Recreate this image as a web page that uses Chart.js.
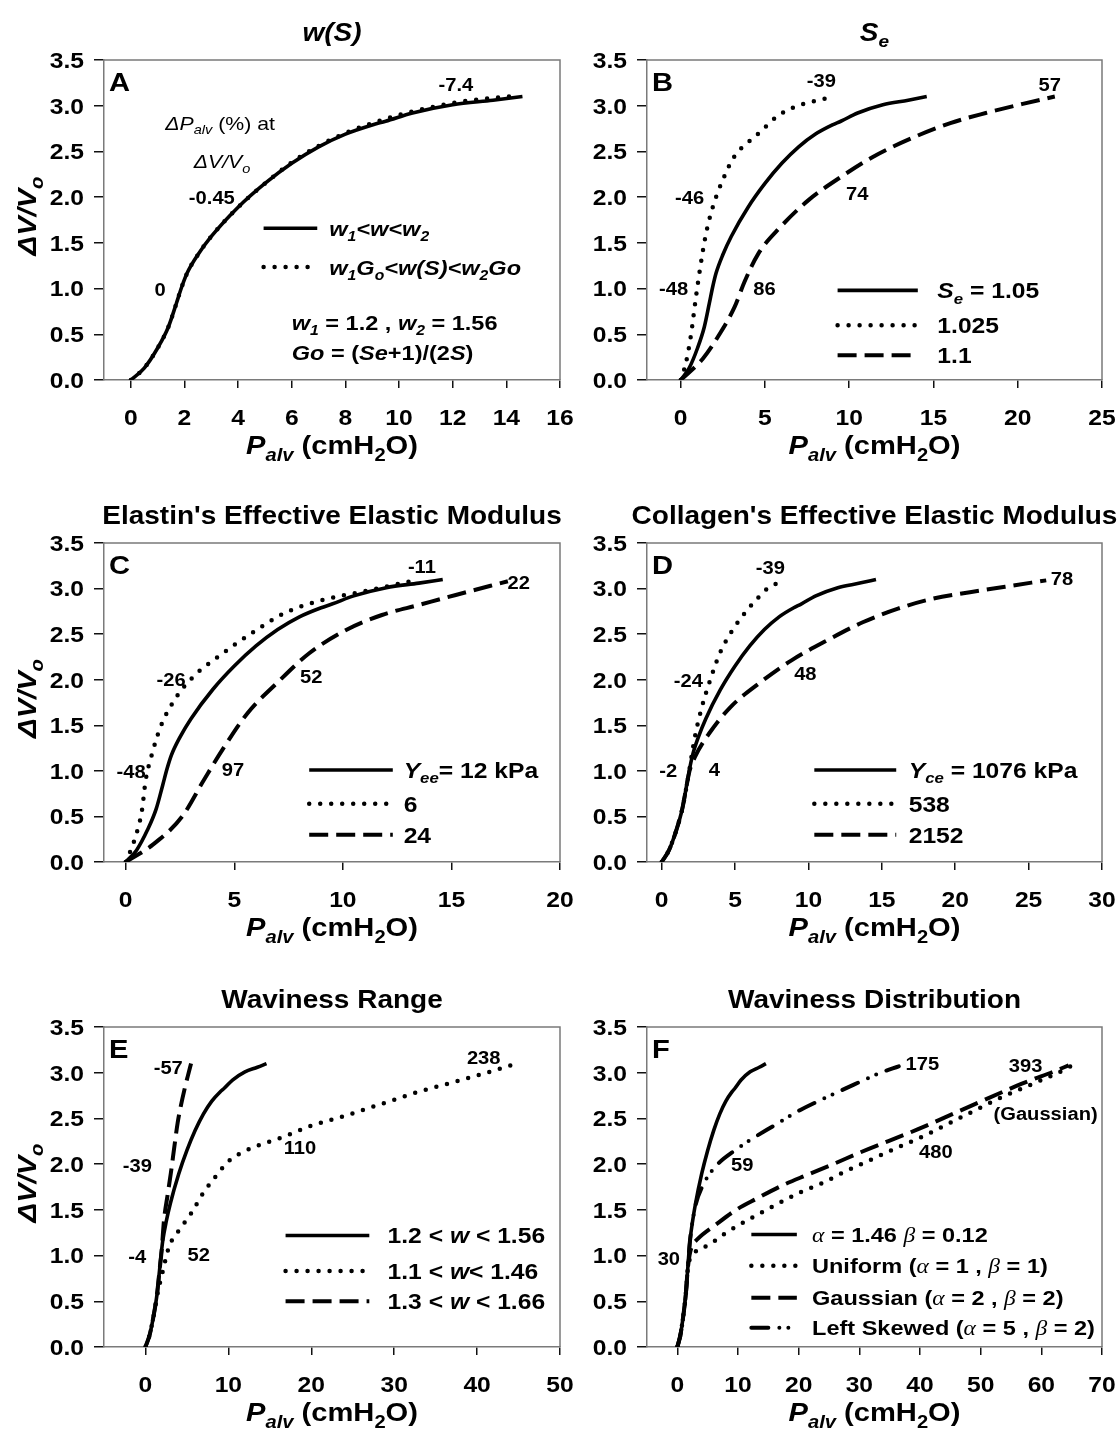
<!DOCTYPE html>
<html>
<head>
<meta charset="utf-8">
<script src="https://cdn.jsdelivr.net/npm/chart.js@4.4.1/dist/chart.umd.min.js"></script>
<style>
  html, body { margin: 0; padding: 0; background: #fff; }
  #wrap { position: relative; width: 1120px; height: 1435px; overflow: hidden; background: #fff; }
  #wrap canvas { position: absolute; }
</style>
</head>
<body>
<div id="wrap">
  <canvas id="pA" width="600" height="478" style="left:0;top:0"></canvas>
  <canvas id="pB" width="540" height="478" style="left:580px;top:0"></canvas>
  <canvas id="pC" width="600" height="478" style="left:0;top:478px"></canvas>
  <canvas id="pD" width="540" height="478" style="left:580px;top:478px"></canvas>
  <canvas id="pE" width="600" height="478" style="left:0;top:957px"></canvas>
  <canvas id="pF" width="540" height="478" style="left:580px;top:957px"></canvas>
</div>
<script>
// tick values
const yTicks = [0, 0.5, 1, 1.5, 2, 2.5, 3, 3.5];
const xTicksA = [0, 2, 4, 6, 8, 10, 12, 14, 16];
const xTicksB = [0, 5, 10, 15, 20, 25];
const xTicksC = [0, 5, 10, 15, 20];
const xTicksD = [0, 5, 10, 15, 20, 25, 30];
const xTicksE = [0, 10, 20, 30, 40, 50];
const xTicksF = [0, 10, 20, 30, 40, 50, 60, 70];

// reference curve (solid line in every panel): P_alv (cmH2O) vs dV/Vo
const refP = [0, 0.5, 1.0, 1.4, 1.7, 1.9, 2.1, 2.5, 3.0, 4.0, 5.0, 6.0, 7.0, 8.0, 9.0, 9.5, 10.5, 12.0, 13.5, 14.6];
const refV = [0, 0.13, 0.35, 0.58, 0.84, 1.02, 1.17, 1.37, 1.57, 1.89, 2.15, 2.37, 2.55, 2.69, 2.79, 2.83, 2.92, 3.01, 3.06, 3.10];

// A: w(S)
const wsP = [0, 0.5, 1.0, 1.4, 1.7, 1.9, 2.1, 2.5, 3.0, 4.0, 5.0, 6.0, 7.0, 8.0, 9.0, 10.0, 11.0, 12.0, 13.0, 14.4];
const wsV = [0, 0.13, 0.35, 0.58, 0.84, 1.02, 1.17, 1.37, 1.57, 1.89, 2.15, 2.38, 2.56, 2.70, 2.81, 2.90, 2.97, 3.03, 3.07, 3.11];

// B: Se
const se1025P = [0, 0.3, 0.6, 0.9, 1.15, 1.5, 1.9, 2.5, 3.2, 4.0, 4.7, 5.7, 6.8, 7.7, 8.9];
const se1025V = [0, 0.18, 0.48, 0.9, 1.22, 1.6, 1.89, 2.19, 2.45, 2.6, 2.71, 2.88, 2.99, 3.04, 3.09];
const se11P = [0, 1.3, 2.3, 3.2, 3.8, 4.6, 5.9, 7.6, 9.5, 11.4, 13.9, 16.0, 18.1, 20.3, 22.2];
const se11V = [0, 0.23, 0.5, 0.8, 1.08, 1.38, 1.67, 1.97, 2.22, 2.44, 2.66, 2.81, 2.92, 3.02, 3.1];

// C: elastin modulus
const yee6P = [0, 0.4, 0.75, 0.92, 1.17, 1.6, 2.25, 3.1, 4.3, 5.8, 7.3, 9.0, 11.0, 13.1];
const yee6V = [0, 0.24, 0.57, 0.9, 1.15, 1.48, 1.78, 2.03, 2.26, 2.51, 2.73, 2.87, 2.97, 3.08];
const yee24P = [0, 1.25, 2.6, 3.6, 4.45, 5.6, 6.95, 8.45, 10.1, 11.8, 13.5, 15.2, 17.6];
const yee24V = [0, 0.19, 0.5, 0.9, 1.23, 1.63, 1.96, 2.29, 2.54, 2.71, 2.82, 2.93, 3.08];

// D: collagen modulus
const yce538P = [0, 0.5, 1.0, 1.4, 1.77, 2.26, 2.74, 3.23, 3.96, 4.69, 5.66, 6.63, 7.36, 8.2];
const yce538V = [0, 0.13, 0.35, 0.58, 0.9, 1.37, 1.7, 1.96, 2.29, 2.51, 2.73, 2.91, 3.02, 3.07];
const yce2152P = [0, 0.5, 1.0, 1.4, 1.7, 1.9, 2.26, 3.23, 4.69, 6.63, 8.82, 11.25, 13.7, 16.1, 18.5, 21.0, 23.4, 26.2];
const yce2152V = [0, 0.13, 0.35, 0.58, 0.84, 1.0, 1.15, 1.41, 1.7, 1.96, 2.21, 2.43, 2.63, 2.78, 2.89, 2.96, 3.02, 3.09];

// E: waviness range
const w11P = [0, 0.5, 1.0, 1.5, 2.04, 2.86, 4.08, 5.5, 6.94, 8.78, 10.0, 12.4, 16.7, 19.7, 24.1, 28.5, 32.9, 37.3, 40.8, 44.7];
const w11V = [0, 0.13, 0.35, 0.6, 0.81, 1.1, 1.28, 1.46, 1.68, 1.9, 2.03, 2.16, 2.3, 2.41, 2.53, 2.66, 2.79, 2.9, 2.99, 3.1];
const w13P = [0, 0.5, 1.0, 1.4, 1.7, 1.95, 2.24, 2.65, 3.06, 3.5, 3.88, 4.3, 4.69, 5.1, 5.5];
const w13V = [0, 0.13, 0.35, 0.58, 0.84, 1.05, 1.39, 1.65, 1.9, 2.2, 2.45, 2.65, 2.81, 2.96, 3.1];

// F: waviness distribution
const uniP = [0, 0.5, 1.0, 1.4, 1.7, 2.0, 2.77, 5.27, 8.04, 11.9, 15.8, 20.2, 24.1, 27.4, 34.6, 41.3, 47.9, 53.4, 59.0, 64.0, 65.6];
const uniV = [0, 0.13, 0.35, 0.58, 0.84, 0.95, 1.03, 1.12, 1.25, 1.4, 1.54, 1.69, 1.8, 1.91, 2.13, 2.33, 2.55, 2.73, 2.89, 3.04, 3.1];
const gausP = [0, 0.5, 1.0, 1.4, 1.7, 2.0, 2.4, 3.32, 6.38, 9.7, 13.0, 17.4, 21.3, 25.7, 30.2, 39.6, 48.5, 56.8, 62.3, 64.5];
const gausV = [0, 0.13, 0.35, 0.58, 0.84, 1.0, 1.1, 1.18, 1.34, 1.5, 1.62, 1.77, 1.88, 2.0, 2.13, 2.38, 2.64, 2.88, 3.02, 3.08];
const skewP = [0, 0.5, 1.0, 1.4, 1.7, 1.9, 2.1, 2.5, 3.0, 4.15, 6.38, 9.7, 11.9, 15.9, 20.2, 25.2, 29.1, 33.5, 36.5];
const skewV = [0, 0.13, 0.35, 0.58, 0.84, 1.02, 1.17, 1.37, 1.55, 1.76, 1.98, 2.16, 2.26, 2.42, 2.59, 2.75, 2.87, 3.0, 3.07];

const FONT = '"Liberation Sans", Arial, sans-serif';
const SERIF = '"Liberation Serif", "DejaVu Serif", serif';
const STRETCH = 1.12; // the figure's lettering is a bit wide

const STYLES = {
  solid: { borderDash: [], borderWidth: 3.6, borderCapStyle: 'butt' },
  dot: { borderDash: [0, 11], borderWidth: 4.5, borderCapStyle: 'round' },
  dash: { borderDash: [19, 8], borderWidth: 4, borderCapStyle: 'butt' },
  dashdot: { borderDash: [17, 11, 0, 9, 0, 11], borderWidth: 4, borderCapStyle: 'round' }
};

// rich text runs
const T = t => ({ t });
const I = t => ({ t, it: 1 });
const Sb = t => ({ t, sub: 1 });
const ISb = t => ({ t, it: 1, sub: 1 });
const G = t => ({ t, it: 1, serif: 1, w: 'normal' });
const N = runs => runs.map(r => Object.assign({ w: 'normal' }, r));

function runFont(r, size) {
  const sz = r.sub ? Math.round(size * 0.68) : size;
  return (r.it ? 'italic ' : '') + (r.w || 'bold') + ' ' + sz + 'px ' + (r.serif ? SERIF : FONT);
}

// draws runs with vertical centre at y
function drawRuns(ctx, runs, x, y, size, align) {
  ctx.save();
  let w = 0;
  runs.forEach(r => { ctx.font = runFont(r, size); w += ctx.measureText(r.t).width; });
  ctx.translate(x, y + size * 0.36);
  ctx.scale(STRETCH, 1);
  let cx = align === 'center' ? -w / 2 : (align === 'right' ? -w : 0);
  ctx.textBaseline = 'alphabetic';
  ctx.fillStyle = '#000';
  runs.forEach(r => {
    ctx.font = runFont(r, size);
    ctx.fillText(r.t, cx, r.sub ? size * 0.24 : 0);
    cx += ctx.measureText(r.t).width;
  });
  ctx.restore();
}

const xTitle = [I('P'), ISb('alv'), T(' (cmH'), Sb('2'), T('O)')];
const yTitle = [I('ΔV/V'), ISb('o')];

const panelPlugin = {
  id: 'panelDecor',
  afterDraw(chart) {
    const p = chart.options.plugins.panelDecor;
    const ctx = chart.ctx, ca = chart.chartArea;
    const xs = chart.scales.x, ys = chart.scales.y;
    // top / right frame
    ctx.save();
    ctx.strokeStyle = '#7a7a7a';
    ctx.lineWidth = 1.5;
    ctx.beginPath();
    ctx.moveTo(ca.left, ca.top); ctx.lineTo(ca.right, ca.top); ctx.lineTo(ca.right, ca.bottom);
    ctx.stroke();
    ctx.restore();
    // tick labels
    xs.ticks.forEach(t => drawRuns(ctx, [T(String(t.value))], xs.getPixelForValue(t.value), ca.bottom + 37, 22, 'center'));
    ys.ticks.forEach(t => drawRuns(ctx, [T(t.value.toFixed(1))], ca.left - 20, ys.getPixelForValue(t.value), 22, 'right'));
    // titles
    const mid = (ca.left + ca.right) / 2;
    drawRuns(ctx, p.title, mid, ca.top - 28, 25, 'center');
    drawRuns(ctx, xTitle, mid, ca.bottom + 65, 26, 'center');
    if (p.yTitle) {
      ctx.save();
      ctx.translate(27, (ca.top + ca.bottom) / 2 - 4);
      ctx.rotate(-Math.PI / 2);
      drawRuns(ctx, yTitle, 0, 0, 26, 'center');
      ctx.restore();
    }
    // panel letter
    drawRuns(ctx, [T(p.letter)], ca.left + 5, ca.top + 22, 26, 'left');
    // value labels
    p.notes.forEach(n => {
      const runs = typeof n[0] === 'string' ? [T(n[0])] : n[0];
      drawRuns(ctx, runs, xs.getPixelForValue(n[1]), ys.getPixelForValue(n[2]), n[3] || 18, n[4] || 'center');
    });
    // legend
    const lg = p.legend;
    lg.rows.forEach(row => {
      const st = STYLES[row[1]];
      const py = ys.getPixelForValue(row[0]);
      ctx.save();
      ctx.strokeStyle = '#000';
      ctx.lineWidth = st.borderWidth;
      ctx.lineCap = st.borderCapStyle;
      ctx.setLineDash(st.borderDash);
      ctx.beginPath();
      ctx.moveTo(xs.getPixelForValue(lg.x1), py);
      ctx.lineTo(xs.getPixelForValue(lg.x2), py);
      ctx.stroke();
      ctx.restore();
      drawRuns(ctx, row[2], xs.getPixelForValue(lg.tx), py, lg.size, 'left');
    });
  }
};

function series(xs, ys, style) {
  return Object.assign({
    data: xs.map((x, i) => ({ x: x, y: ys[i] })),
    borderColor: '#000',
    backgroundColor: '#000',
    pointRadius: 0,
    fill: false,
    cubicInterpolationMode: 'monotone',
    borderJoinStyle: 'round'
  }, STYLES[style]);
}

function makePanel(id, cfg) {
  const leftCol = cfg.col === 0;
  const rowPad = [[60, 68], [65, 64], [70, 58]][cfg.row];
  new Chart(document.getElementById(id), {
    type: 'line',
    data: { datasets: cfg.series },
    options: {
      responsive: false,
      animation: false,
      devicePixelRatio: 1,
      layout: { padding: { left: leftCol ? 54 : 17, right: leftCol ? 40 : 18, top: rowPad[0], bottom: rowPad[1] } },
      plugins: { legend: { display: false }, tooltip: { enabled: false }, panelDecor: cfg },
      scales: {
        x: {
          type: 'linear', min: cfg.xMin, max: cfg.xMax,
          afterBuildTicks: s => { s.ticks = cfg.xTicks.map(v => ({ value: v })); },
          afterFit: s => { s.height = 30; },
          ticks: { display: false },
          grid: { drawOnChartArea: false, drawTicks: true, tickLength: 8, color: '#111', lineWidth: 1.5 },
          border: { display: true, color: '#7a7a7a', width: 1.5 }
        },
        y: {
          type: 'linear', min: 0, max: 3.5,
          afterBuildTicks: s => { s.ticks = yTicks.map(v => ({ value: v })); },
          afterFit: s => { s.width = 50; },
          ticks: { display: false },
          grid: { drawOnChartArea: false, drawTicks: true, tickLength: 10, color: '#111', lineWidth: 1.5 },
          border: { display: true, color: '#7a7a7a', width: 1.5 }
        }
      }
    },
    plugins: [panelPlugin]
  });
}

makePanel('pA', {
  col: 0, row: 0, letter: 'A', yTitle: true, title: [I('w(S)')],
  xMin: -1, xMax: 16, xTicks: xTicksA,
  series: [series(refP, refV, 'solid'), series(wsP, wsV, 'dot')],
  notes: [
    ['-7.4', 12.12, 3.23], ['-0.45', 3.02, 2.0], ['0', 1.09, 0.99],
    [N([I('ΔP'), ISb('alv'), T(' (%) at')]), 3.33, 2.81, 19],
    [N([I('ΔV/V'), ISb('o')]), 3.4, 2.39, 19],
    [[I('w'), ISb('1'), T(' = 1.2 , '), I('w'), ISb('2'), T(' = 1.56')], 6.0, 0.63, 21, 'left'],
    [[I('Go'), T(' = ('), I('Se'), T('+1)/(2'), I('S'), T(')')], 6.0, 0.30, 21, 'left']
  ],
  legend: { x1: 4.95, x2: 6.95, tx: 7.4, size: 21, rows: [
    [1.66, 'solid', [I('w'), ISb('1'), I('<w<w'), ISb('2')]],
    [1.235, 'dot', [I('w'), ISb('1'), I('G'), ISb('o'), I('<w(S)<w'), ISb('2'), I('Go')]]
  ] }
});

makePanel('pB', {
  col: 1, row: 0, letter: 'B', yTitle: false, title: [I('S'), ISb('e')],
  xMin: -2, xMax: 25, xTicks: xTicksB,
  series: [series(refP, refV, 'solid'), series(se1025P, se1025V, 'dot'), series(se11P, se11V, 'dash')],
  notes: [['-39', 8.35, 3.28], ['57', 21.9, 3.23], ['-46', 0.53, 2.0], ['74', 10.47, 2.04], ['-48', -0.42, 1.0], ['86', 4.97, 1.0]],
  legend: { x1: 9.31, x2: 14.07, tx: 15.23, size: 22, rows: [
    [0.98, 'solid', [I('S'), ISb('e'), T(' = 1.05')]],
    [0.6, 'dot', [T('1.025')]],
    [0.27, 'dash', [T('1.1')]]
  ] }
});

makePanel('pC', {
  col: 0, row: 1, letter: 'C', yTitle: true, title: [T("Elastin's Effective Elastic Modulus")],
  xMin: -1, xMax: 20, xTicks: xTicksC,
  series: [series(refP, refV, 'solid'), series(yee6P, yee6V, 'dot'), series(yee24P, yee24V, 'dash')],
  notes: [['-11', 13.64, 3.24], ['22', 18.1, 3.07], ['-26', 2.09, 2.0], ['52', 8.54, 2.03], ['-48', 0.25, 0.99], ['97', 4.94, 1.02]],
  legend: { x1: 8.45, x2: 12.3, tx: 12.8, size: 22, rows: [
    [1.01, 'solid', [I('Y'), ISb('ee'), T('= 12 kPa')]],
    [0.64, 'dot', [T('6')]],
    [0.30, 'dash', [T('24')]]
  ] }
});

makePanel('pD', {
  col: 1, row: 1, letter: 'D', yTitle: false, title: [T("Collagen's Effective Elastic Modulus")],
  xMin: -1, xMax: 30, xTicks: xTicksD,
  series: [series(refP, refV, 'solid'), series(yce538P, yce538V, 'dot'), series(yce2152P, yce2152V, 'dash')],
  notes: [['-39', 7.41, 3.23], ['78', 27.28, 3.11], ['-24', 1.82, 1.99], ['48', 9.79, 2.07], ['-2', 0.44, 1.0], ['4', 3.59, 1.02]],
  legend: { x1: 10.4, x2: 15.98, tx: 16.83, size: 22, rows: [
    [1.01, 'solid', [I('Y'), ISb('ce'), T(' = 1076 kPa')]],
    [0.64, 'dot', [T('538')]],
    [0.30, 'dash', [T('2152')]]
  ] }
});

makePanel('pE', {
  col: 0, row: 2, letter: 'E', yTitle: true, title: [T('Waviness Range')],
  xMin: -5, xMax: 50, xTicks: xTicksE,
  series: [series(refP, refV, 'solid'), series(w11P, w11V, 'dot'), series(w13P, w13V, 'dash')],
  notes: [['-57', 2.75, 3.06], ['238', 40.8, 3.17], ['-39', -0.98, 1.99], ['110', 18.64, 2.18], ['-4', -0.98, 0.99], ['52', 6.43, 1.01]],
  legend: { x1: 16.9, x2: 27.0, tx: 29.2, size: 22, rows: [
    [1.22, 'solid', [T('1.2 < '), I('w'), T(' < 1.56')]],
    [0.83, 'dot', [T('1.1 < '), I('w'), T('< 1.46')]],
    [0.50, 'dash', [T('1.3 < '), I('w'), T(' < 1.66')]]
  ] }
});

makePanel('pF', {
  col: 1, row: 2, letter: 'F', yTitle: false, title: [T('Waviness Distribution')],
  xMin: -5, xMax: 70, xTicks: xTicksF,
  series: [series(refP, refV, 'solid'), series(uniP, uniV, 'dot'), series(gausP, gausV, 'dash'), series(skewP, skewV, 'dashdot')],
  notes: [['175', 40.4, 3.10], ['393', 57.4, 3.08], ['(Gaussian)', 60.7, 2.55], ['480', 42.6, 2.14], ['59', 10.7, 2.0], ['30', -1.4, 0.97]],
  legend: { x1: 12.2, x2: 19.7, tx: 22.2, size: 21, rows: [
    [1.23, 'solid', [G('α'), T(' = 1.46 '), G('β'), T(' = 0.12')]],
    [0.89, 'dot', [T('Uniform ('), G('α'), T(' = 1 , '), G('β'), T(' = 1)')]],
    [0.54, 'dash', [T('Gaussian ('), G('α'), T(' = 2 , '), G('β'), T(' = 2)')]],
    [0.21, 'dashdot', [T('Left Skewed ('), G('α'), T(' = 5 , '), G('β'), T(' = 2)')]]
  ] }
});
</script>
</body>
</html>
